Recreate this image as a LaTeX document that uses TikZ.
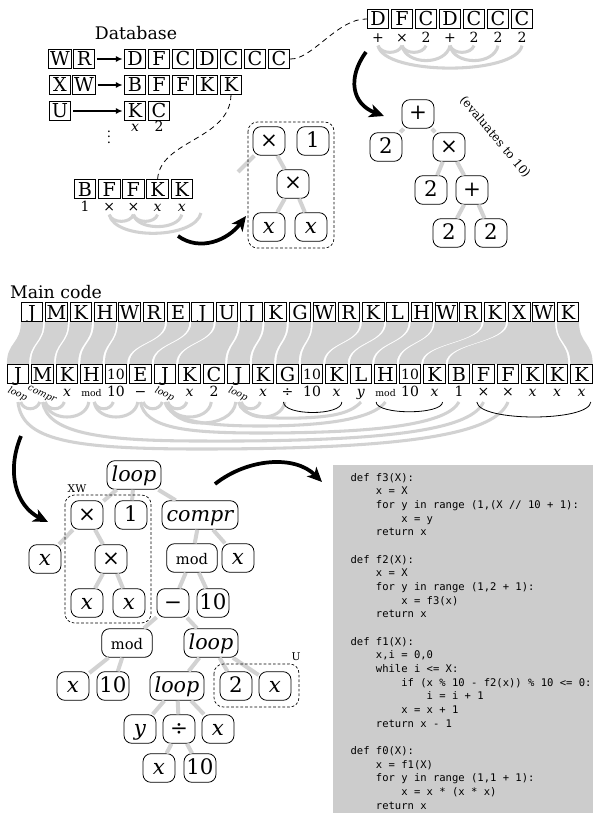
\documentclass[tikz,border=0pt]{standalone}
\usepackage{fontspec}
\setmainfont{DejaVu Serif}
\setmonofont{DejaVu Sans Mono}
\usetikzlibrary{arrows.meta}
\newcommand\ten{\raisebox{1.2pt}{\fontsize{10.5}{11}\selectfont 10}}
\newcommand\sml[1]{{\fontsize{7}{8}\selectfont\itshape #1}}
\newcommand\smr[1]{{\fontsize{7}{8}\selectfont #1}}
\newcommand\ind{\hspace*{2.408em}}
\newcommand\spc{\hspace*{0.602em}}
\tikzset{
cell/.style={ % letter boxes
draw, line width=0.5pt,
inner xsep=1pt, inner ysep=1.8pt,
minimum width=16.2pt, minimum height=14pt,
text height=10.5pt, text depth=0pt,
font=\fontsize{14.4}{16}\selectfont},
lbl/.style={inner sep=0.5pt, text height=7pt, text depth=1.5pt,
font=\fontsize{10.5}{12}\selectfont},
heading/.style={font=\fontsize{13}{15}\selectfont},
grouptag/.style={inner sep=0.5pt, font=\fontsize{8}{9}\selectfont},
tnode/.style={ % tree nodes
draw, fill=white, rounded corners=6pt, line width=0.6pt,
minimum width=24pt, minimum height=21.5pt,
inner xsep=1.5pt, inner ysep=2pt,
text height=11.5pt, text depth=2.5pt,
font=\fontsize{16}{18}\selectfont},
opnode/.style={tnode, inner xsep=3.5pt, font=\fontsize{15.5}{18}\selectfont\itshape},
modnode/.style={tnode, minimum width=38pt, font=\fontsize{11}{13}\selectfont},
treelink/.style={draw=gray!35, line width=3pt},
tie/.style={draw=gray!35, line width=2.3pt},
span/.style={draw, line width=0.6pt},
ribbon/.style={fill=gray!35},
dbarrow/.style={-{Latex[length=5pt,width=4.5pt]}, line width=0.8pt,
shorten <=1.5pt, shorten >=1pt},
dblink/.style={line width=0.6pt, dash pattern=on 4pt off 3pt},
groupbox/.style={line width=0.5pt, dash pattern=on 2pt off 1.5pt, rounded corners=7pt},
bigarrow/.style={-{Stealth[length=11pt,width=10pt,inset=3pt]}, line width=2.8pt},
codebox/.style={anchor=north west, fill=gray!40, align=left,
text width=184pt, inner xsep=13pt, inner ysep=6pt, minimum height=261pt,
font=\fontsize{7.9}{10.25}\ttfamily}}

\begin{document}
\begin{tikzpicture}[x=0.75pt, y=-0.75pt]
\useasboundingbox (0,0) rectangle (592,813);

% database
\node[heading] (dbtitle) at (136,33) {Database};
\node[cell] (k1a) at (60,59) {W};
\node[cell] (k1b) at (84,59) {R};
\foreach \ch [count=\k] in {D,F,C,D,C,C,C}
  \node[cell] (a\k) at ({111+24*\k},59) {\ch};
\node[cell] (k2a) at (60,85) {X};
\node[cell] (k2b) at (84,85) {W};
\foreach \ch [count=\k] in {B,F,F,K,K}
  \node[cell] (b\k) at ({111+24*\k},85) {\ch};
\node[cell] (k3a) at (60,111) {U};
\node[cell] (v1) at (135,111) {K};
\node[cell] (v2) at (159,111) {C};
\node[lbl] (vl1) at (135,128) {\textit{x}};
\node[lbl] (vl2) at (159,128) {2};
\node[font=\fontsize{10}{10}\selectfont] (dots) at (109,133) {$\vdots$};
\draw[dbarrow] (k1b) -- (a1);
\draw[dbarrow] (k2b) -- (b1);
\draw[dbarrow] (k3a) -- (v1);

% WR evaluated
\foreach \ch [count=\k] in {D,F,C,D,C,C,C}
  \node[cell] (t\k) at ({354+24*\k},19) {\ch};
\foreach \txt [count=\k] in {+,×,2,+,2,2,2}
  \node[lbl] (tl\k) at ({354+24*\k},39) {\txt};
\draw[dblink] (a7.east) .. controls (312,60) and (338,18) .. (t1.west);
\draw[tie] (tl1.south) .. controls +(3,9) and +(-3,9) .. (tl2.south);
\draw[tie] (tl2.south) .. controls +(3,9) and +(-3,9) .. (tl3.south);
\draw[tie] (tl2.south) .. controls +(4,20) and +(-4,20) .. (tl4.south);
\draw[tie] (tl4.south) .. controls +(3,9) and +(-3,9) .. (tl5.south);
\draw[tie] (tl4.south) .. controls +(4,20) and +(-4,20) .. (tl6.south);
\draw[tie] (tl1.south) .. controls +(6,30) and +(-6,30) .. (tl7.south);
\node[tnode] (pl1) at (418,114) {+};
\node[tnode] (tw1) at (386,147) {2};
\node[tnode] (tm1) at (449,147) {×};
\node[tnode] (tw2) at (431,190) {2};
\node[tnode] (pl2) at (472,190) {+};
\node[tnode] (tw3) at (449,233) {2};
\node[tnode] (tw4) at (491,233) {2};
\draw[treelink] (pl1) -- (tw1);
\draw[treelink] (pl1) -- (tm1);
\draw[treelink] (tm1) -- (tw2);
\draw[treelink] (tm1) -- (pl2);
\draw[treelink] (pl2) -- (tw3);
\draw[treelink] (pl2) -- (tw4);
\node[rotate=-50, font=\fontsize{9}{10}\selectfont] (evaltext) at (495,137) {(evaluates to 10)};
\coordinate (arA1) at (366,52);
\coordinate (arA2) at (384,116);
\draw[bigarrow] (arA1) .. controls (347,78) and (352,104) .. (arA2);

% XW fragment
\foreach \ch [count=\k] in {B,F,F,K,K}
  \node[cell] (f\k) at ({60.8+24.2*\k},189) {\ch};
\foreach \txt [count=\k] in {1,×,×,\textit{x},\textit{x}}
  \node[lbl] (fl\k) at ({60.8+24.2*\k},208) {\txt};
\coordinate (fopen) at (201,213);
\draw[dblink] (b5.south) .. controls (230,140) and (160,140) .. (f4.north);
\draw[tie] (fl2.south) .. controls +(3,9) and +(-3,9) .. (fl3.south);
\draw[tie] (fl3.south) .. controls +(3,9) and +(-3,9) .. (fl4.south);
\draw[tie] (fl3.south) .. controls +(4,16) and +(-4,16) .. (fl5.south);
\draw[tie] (fl2.south) .. controls +(6,26) and +(-6,26) .. (fopen);
\node[tnode] (hm1) at (269,141) {×};
\node[tnode] (h1) at (313,141) {1};
\node[tnode] (hm2) at (293,184) {×};
\node[tnode] (hx1) at (269,227) {\textit{x}};
\node[tnode] (hx2) at (311,227) {\textit{x}};
\coordinate (hopen) at (238,172);
\draw[treelink] (hm1) -- (hopen);
\draw[treelink] (hm1) -- (hm2);
\draw[treelink] (hm2) -- (hx1);
\draw[treelink] (hm2) -- (hx2);
\draw[groupbox] (248,122) rectangle (334,248);
\coordinate (arB1) at (178,236);
\coordinate (arB2) at (246,216);
\draw[bigarrow] (arB1) .. controls (200,252) and (228,240) .. (arB2);

% main code and its expansion
\node[heading] (maintitle) at (56,292) {Main code};
\foreach \ch [count=\k from 0] in {J,M,K,H,W,R,E,J,U,J,K,G,W,R,K,L,H,W,R,K,X,W,K}
  \node[cell] (m\k) at ({32+24.36*\k},312) {\ch};
\foreach \ch [count=\k from 0] in {J,M,K,H,\ten,E,J,K,C,J,K,G,\ten,K,L,H,\ten,K,B,F,F,K,K,K}
  \node[cell] (e\k) at ({18+24.5*\k},374) {\ch};
\foreach \ta/\tb/\ba/\bb in {0/0/0/0, 1/1/1/1, 2/2/2/2, 3/3/3/3, 4/5/4/4, 6/6/5/5,
  7/7/6/6, 8/8/7/8, 9/9/9/9, 10/10/10/10, 11/11/11/11, 12/13/12/12, 14/14/13/13,
  15/15/14/14, 16/16/15/15, 17/18/16/16, 19/19/17/17, 20/21/18/22, 22/22/23/23}
  \fill[ribbon] ([yshift=-0.3pt]m\ta.south west) .. controls +(0,22) and +(0,-22) ..
    ([yshift=0.3pt]e\ba.north west) -- ([yshift=0.3pt]e\bb.north east)
    .. controls +(0,-22) and +(0,22) .. ([yshift=-0.3pt]m\tb.south east) -- cycle;
\foreach \k/\rot/\txt in {0/-25/\sml{loop}, 1/-25/\sml{compr}, 2/0/\textit{x},
  3/0/\smr{mod}, 4/0/10, 5/0/−, 6/-25/\sml{loop}, 7/0/\textit{x}, 8/0/2,
  9/-25/\sml{loop}, 10/0/\textit{x}, 11/0/÷, 12/0/10, 13/0/\textit{x},
  14/0/\textit{y}, 15/0/\smr{mod}, 16/0/10, 17/0/\textit{x}, 18/0/1, 19/0/×,
  20/0/×, 21/0/\textit{x}, 22/0/\textit{x}, 23/0/\textit{x}}
  \node[lbl, rotate=\rot] (s\k) at ({18+24.5*\k},393) {\txt};
\foreach \k in {0,...,23}
  \coordinate (u\k) at ({18+24.5*\k},402);
\foreach \pa/\pb/\dep in {0/1/9, 1/2/9, 1/3/20, 3/4/9, 3/5/20, 5/6/9, 6/7/9,
  6/8/20, 6/9/28, 9/10/9, 9/11/20}
  \draw[tie] ([xshift=2pt]u\pa) .. controls +(3,\dep) and +(-3,\dep) .. ([xshift=-2pt]u\pb);
\draw[tie] (u9) .. controls (242,416) and (262,419) .. (300,418)
  .. controls (330,417) and (350,414) .. (u14);
\draw[tie] (u6) .. controls (170,421) and (205,426) .. (260,426)
  .. controls (320,426) and (372,420) .. (u15);
\draw[tie] (u5) .. controls (145,428) and (185,433) .. (260,433)
  .. controls (380,433) and (447,424) .. (u18);
\draw[tie] (u1) .. controls (48,432) and (95,441) .. (200,441)
  .. controls (400,442) and (472,428) .. (u19);
\draw[tie] (u0) .. controls (22,440) and (70,449) .. (200,449)
  .. controls (420,449) and (496,432) .. (u20);
\draw[span] ([xshift=-3pt]u11) .. controls +(0,14) and +(0,14) .. ([xshift=4pt]u13);
\draw[span] ([xshift=-7pt]u15) .. controls +(0,13) and +(0,13) .. ([xshift=6pt]u17);
\draw[span] ([xshift=-5pt]u19) .. controls +(2,20) and +(-2,20) .. ([xshift=7pt]u23);

% program tree
\node[opnode] (root) at (134,475) {loop};
\node[tnode] (bm) at (87,515) {×};
\node[tnode] (b1) at (131,515) {1};
\node[opnode] (bc) at (200,515) {compr};
\node[tnode] (bx) at (45,559) {\textit{x}};
\node[tnode] (bm2) at (111,559) {×};
\node[modnode] (bmod) at (192,558) {mod};
\node[tnode] (bcx) at (238,558) {\textit{x}};
\node[tnode] (bx1) at (87,603) {\textit{x}};
\node[tnode] (bx2) at (129,603) {\textit{x}};
\node[tnode] (bmin) at (173,603) {−};
\node[tnode] (b10) at (213,603) {10};
\node[modnode] (bmod2) at (127,643) {mod};
\node[opnode] (bl2) at (211,643) {loop};
\node[tnode] (bmx) at (73,686) {\textit{x}};
\node[tnode] (bm10) at (113,686) {10};
\node[opnode] (bl3) at (177,686) {loop};
\node[tnode] (bu2) at (236,686) {2};
\node[tnode] (bux) at (275,686) {\textit{x}};
\node[tnode] (by) at (140,729) {\textit{y}};
\node[tnode] (bdiv) at (179,729) {÷};
\node[tnode] (blx) at (218,729) {\textit{x}};
\node[tnode] (bdx) at (159,768) {\textit{x}};
\node[tnode] (bd10) at (200,768) {10};
\draw[treelink] (root) -- (bm);
\draw[treelink] (root) -- (b1);
\draw[treelink] (root) -- (bc);
\draw[treelink] (bm) -- (bx);
\draw[treelink] (bm) -- (bm2);
\draw[treelink] (bm2) -- (bx1);
\draw[treelink] (bm2) -- (bx2);
\draw[treelink] (bc) -- (bmod);
\draw[treelink] (bc) -- (bcx);
\draw[treelink] (bmod) -- (bmin);
\draw[treelink] (bmod) -- (b10);
\draw[treelink] (bmin) -- (bmod2);
\draw[treelink] (bmin) -- (bl2);
\draw[treelink] (bmod2) -- (bmx);
\draw[treelink] (bmod2) -- (bm10);
\draw[treelink] (bl2) -- (bl3);
\draw[treelink] (bl2) -- (bu2);
\draw[treelink] (bl2) -- (bux);
\draw[treelink] (bl3) -- (by);
\draw[treelink] (bl3) -- (bdiv);
\draw[treelink] (bl3) -- (blx);
\draw[treelink] (bdiv) -- (bdx);
\draw[treelink] (bdiv) -- (bd10);
\draw[groupbox] (65,495) rectangle (151,623);
\draw[groupbox] (214,664) rectangle (299,707);
\node[grouptag] (xwtag) at (77,489) {XW};
\node[grouptag] (utag) at (296,657) {U};
\coordinate (arC1) at (21,436);
\coordinate (arC2) at (48,522);
\draw[bigarrow] (arC1) .. controls (6,472) and (16,506) .. (arC2);
\coordinate (arD1) at (215,484);
\coordinate (arD2) at (322,482);
\draw[bigarrow] (arD1) .. controls (248,458) and (295,455) .. (arD2);

% generated code
\node[codebox] (code) at (333,465) {def\spc f3(X):\\
\ind x\spc=\spc X\\
\ind for\spc y\spc in\spc range\spc (1,(X\spc //\spc 10\spc +\spc 1):\\
\ind\ind x\spc=\spc y\\
\ind return\spc x\\
\mbox{}\\
def\spc f2(X):\\
\ind x\spc=\spc X\\
\ind for\spc y\spc in\spc range\spc (1,2\spc +\spc 1):\\
\ind\ind x\spc=\spc f3(x)\\
\ind return\spc x\\
\mbox{}\\
def\spc f1(X):\\
\ind x,i\spc=\spc 0,0\\
\ind while\spc i\spc <=\spc X:\\
\ind\ind if\spc (x\spc \%\spc 10\spc -\spc f2(x))\spc \%\spc 10\spc <=\spc 0:\\
\ind\ind\ind i\spc=\spc i\spc +\spc 1\\
\ind\ind x\spc=\spc x\spc +\spc 1\\
\ind return\spc x\spc -\spc 1\\
\mbox{}\\
def\spc f0(X):\\
\ind x\spc=\spc f1(X)\\
\ind for\spc y\spc in\spc range\spc (1,1\spc +\spc 1):\\
\ind\ind x\spc=\spc x\spc *\spc (x\spc *\spc x)\\
\ind return\spc x};
\end{tikzpicture}
\end{document}
